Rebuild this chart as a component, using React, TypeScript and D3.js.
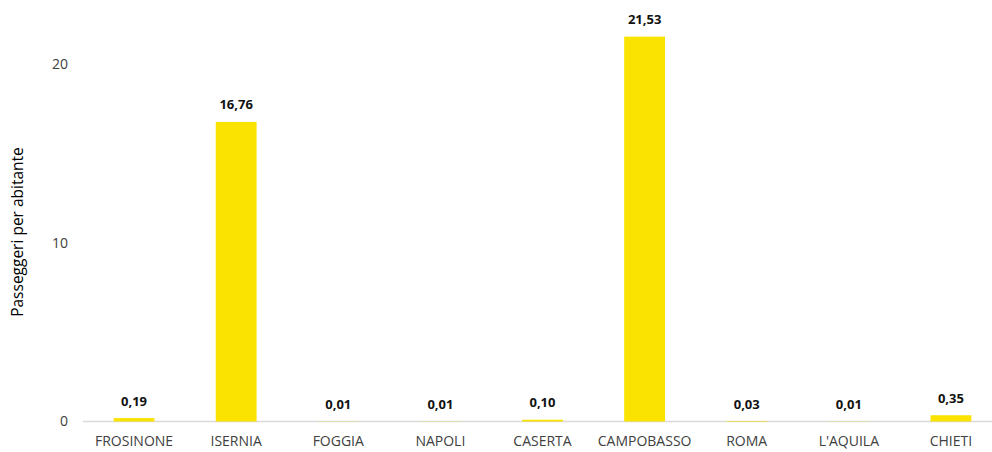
import React, { useEffect, useRef } from 'react';
import * as d3 from 'd3';

const categories = ['FROSINONE', 'ISERNIA', 'FOGGIA', 'NAPOLI', 'CASERTA', 'CAMPOBASSO', 'ROMA', "L'AQUILA", 'CHIETI'];
const values = [0.19, 16.76, 0.01, 0.01, 0.1, 21.53, 0.03, 0.01, 0.35];
const yTicks = [0, 10, 20];
const yTitle = 'Passeggeri per abitante';

const FONT = "'Open Sans', 'Noto Sans', sans-serif";

export default function App() {
  const svgRef = useRef<SVGSVGElement>(null);

  useEffect(() => {
    if (!svgRef.current) return;
    const width = 992;
    const height = 452;
    const svg = d3.select(svgRef.current);
    svg.selectAll('*').remove();

    const x = d3.scaleBand<string>()
      .domain(categories)
      .range([83, 1002])
      .paddingInner(0.6)
      .paddingOuter(0.3);

    const y = d3.scaleLinear().domain([0, 20]).range([421.5, 64]);

    // x axis line
    svg.append('line')
      .attr('x1', 83).attr('x2', width)
      .attr('y1', y(0)).attr('y2', y(0))
      .attr('stroke', '#d9d9d9').attr('stroke-width', 1.3);

    // y tick labels
    svg.append('g').selectAll('text')
      .data(yTicks)
      .join('text')
      .attr('x', 68)
      .attr('y', d => y(d))
      .attr('dy', '0.35em')
      .attr('text-anchor', 'end')
      .attr('font-family', FONT)
      .attr('font-size', 14)
      .attr('fill', '#404040')
      .text(d => d);

    // y title
    svg.append('text')
      .attr('transform', `translate(18,232) rotate(-90)`)
      .attr('text-anchor', 'middle')
      .attr('dy', '0.35em')
      .attr('font-family', FONT)
      .attr('font-size', 15.5)
      .attr('fill', '#000')
      .text(yTitle);

    // bars
    svg.append('g').selectAll('rect')
      .data(values)
      .join('rect')
      .attr('x', (_, i) => x(categories[i])!)
      .attr('width', x.bandwidth())
      .attr('y', d => y(d))
      .attr('height', d => Math.max(0, y(0) - y(d)))
      .attr('fill', '#FAE300');

    // value labels
    svg.append('g').selectAll('text')
      .data(values)
      .join('text')
      .attr('x', (_, i) => x(categories[i])! + x.bandwidth() / 2)
      .attr('y', d => y(d) - 17)
      .attr('dy', '0.35em')
      .attr('text-anchor', 'middle')
      .attr('font-family', FONT)
      .attr('font-size', 13)
      .attr('font-weight', 'bold')
      .attr('fill', '#111')
      .text(d => d3.format('.2f')(d).replace('.', ','));

    // category labels
    svg.append('g').selectAll('text')
      .data(categories)
      .join('text')
      .attr('x', d => x(d)! + x.bandwidth() / 2)
      .attr('y', 441)
      .attr('dy', '0.35em')
      .attr('text-anchor', 'middle')
      .attr('font-family', FONT)
      .attr('font-size', 14)
      .attr('fill', '#404040')
      .text(d => d);
  }, []);

  return (
    <svg
      ref={svgRef}
      width={992}
      height={452}
      style={{ position: 'absolute', left: 0, top: 0, background: '#fff' }}
    />
  );
}
